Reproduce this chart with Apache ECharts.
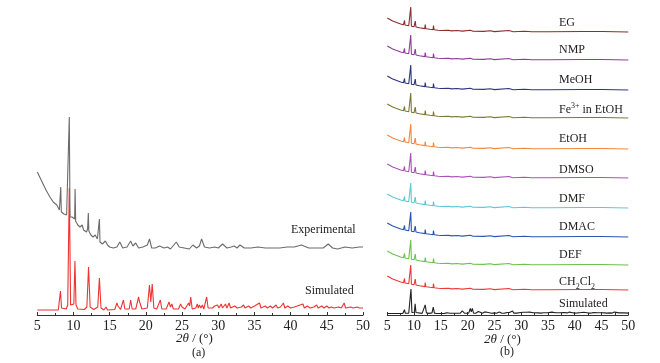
<!DOCTYPE html>
<html>
<head>
<meta charset="utf-8">
<script src="https://cdn.jsdelivr.net/npm/echarts@6/dist/echarts.min.js"></script>
<style>
  html, body { margin: 0; padding: 0; background: #fff; }
  #main { width: 660px; height: 363px; }
</style>
</head>
<body>
<div id="main"></div>
<script>
// x range / ticks (2θ, degrees)
var xMin = 5, xMax = 50, xStep = 5;

// (a) experimental pattern, intensity in plot units above axis
var expA = [
  [5,143],[5.4,137],[5.8,131],[6.2,125],[6.75,118],[7.2,113],[7.7,110],[8.05,105],[8.18,103],[8.24,128],[8.32,103],
  [8.7,101],[9.05,100],[9.3,99],[9.42,198],[9.52,98],[9.8,98],[10.05,96],[10.16,96],[10.22,126],[10.3,94],[10.6,90],
  [10.9,88],[11.2,90],[11.4,85],[11.8,83],[11.95,86],[12.05,102],[12.12,84],[12.4,80],[12.7,78],[13.0,80],[13.3,76],
  [13.5,75],[13.58,96],[13.66,73],[14.0,71],[14.4,74],[14.7,70],[15.0,68],[15.5,67],[16.0,68],[16.4,73],[16.8,67],
  [17.4,68],[17.9,74],[18.2,69],[18.6,72],[19.0,67],[19.6,68],[20.2,70],[20.5,76],[20.8,67],[21.3,67],[21.9,69],
  [22.5,67],[23.0,68],[23.4,66],[24.2,73],[24.6,68],[25.3,67],[26.0,66],[26.5,70],[27.0,67],[27.4,69],[27.7,76],
  [28.1,68],[28.8,67],[29.5,68],[30.0,67],[30.6,71],[31.2,67],[31.8,68],[32.2,69],[32.6,67],[33.0,70],[33.6,67],
  [34.5,67],[35.5,68],[36.5,67],[37.5,67],[38.5,67],[39.5,68],[40.5,68],[41.5,70],[42.5,67],[43.5,67],[44.5,67],
  [45.2,71],[45.8,67],[46.5,66],[47.5,68],[48.5,67],[49.5,68],[50,68]
];

// simulated pattern, height above its own baseline
var simPattern = [
  [5,0],[7.9,0],[8.05,2],[8.2,19],[8.35,2],[8.6,0.5],[9.0,1],[9.2,5],[9.42,122],[9.6,5],[9.85,3],[10.05,6],[10.2,49],
  [10.35,5],[10.6,1],[11.5,0.5],[11.85,3],[12.08,43],[12.3,3],[12.8,0.5],[13.35,3],[13.58,32],[13.8,2],[14.2,0],
  [14.5,3],[14.7,0],[15.7,0.5],[16.0,7],[16.15,4],[16.3,6],[16.5,0.5],[16.7,1],[16.9,10],[17.1,1],[17.7,1],[17.9,10],
  [18.1,1],[18.6,1],[19.0,13],[19.1,9],[19.25,11],[19.45,1],[20.2,2],[20.5,25],[20.68,8],[20.88,26],[21.1,2],[21.5,1],
  [22.0,10],[22.2,1],[22.8,1],[23.2,8],[23.4,3],[23.6,6],[23.8,1],[24.5,1],[24.8,6],[25.0,3],[25.15,5],[25.4,1],
  [25.9,7],[26.05,4],[26.2,13],[26.4,1],[26.9,2],[27.1,6],[27.25,2],[27.4,5],[27.6,2],[27.8,5],[28.0,1],[28.4,13],
  [28.6,2],[29.2,2],[29.5,4],[29.9,5],[30.1,2],[30.4,6],[30.6,2],[31.0,6],[31.2,2],[31.5,7],[31.7,2],[32.3,4],
  [32.6,2],[33.2,3],[33.5,5],[33.7,2],[34.2,4],[34.5,2],[35.0,4],[35.2,2],[35.7,7],[35.9,2],[36.5,4],[36.8,2],
  [37.2,4],[37.5,2],[38.0,5],[38.2,2],[38.6,3],[39.0,7],[39.2,2],[39.6,4],[40.0,2],[40.5,3],[40.9,4],[41.1,2],
  [41.7,6],[41.9,2],[42.3,4],[42.7,2],[43.2,3],[43.6,5],[43.8,2],[44.3,4],[44.6,2],[45.0,4],[45.3,2],[45.6,3],
  [46.0,2],[46.6,3],[47.0,2],[47.4,7],[47.6,2],[48.3,3],[48.6,2],[49.2,3],[49.5,2],[50,2]
];

// (b) experimental pattern shape, height above the trace's baseline
var expB = [
  [5,14],[5.5,12.5],[6,11],[6.5,10],[7,9],[7.5,8],[8.0,7.2],[8.15,7],[8.22,11.5],[8.3,7],[9.0,6.2],[9.3,6],[9.38,25],
  [9.5,5.8],[10.0,5.3],[10.15,5.2],[10.22,11],[10.35,5],[11,4.2],[12.0,3.4],[12.08,7.5],[12.2,3.3],[13.0,2.7],
  [13.55,2.4],[13.62,6.5],[13.75,2.3],[14.5,1.8],[15,1.5],[16.4,1.8],[17,1.1],[18,1.5],[19,0.9],[20.5,1.8],[21,0.8],
  [23,0.6],[24.2,1.2],[25,0.4],[27.7,1.5],[28.5,0.3],[30.6,0.8],[32,0.2],[35,0.2],[41.5,0.5],[45.2,0.5],[50,0]
];

// (b) samples, top to bottom
var samples = ["EG", "NMP", "MeOH", "Fe3+ in EtOH", "EtOH", "DMSO", "DMF", "DMAC", "DEF", "CH2Cl2"];
var sampleOffsets = [283, 255, 225, 197, 166, 137, 107, 78, 50, 25];
var sampleColors = ["#8b2e2e", "#8e3d9b", "#2f3680", "#7a7a36", "#f5883a", "#aa52b9", "#5ec8d4", "#2a55b0", "#6cc24a", "#ec3a3a"];
var sampleLabelY = [25, 52, 82, 110, 141, 172, 201, 229, 257, 284];

var serif = '"Liberation Serif", "Times New Roman", serif';

var myChart = echarts.init(document.getElementById("main"));

function xAxisOf(gi) {
  return {
    gridIndex: gi,
    type: "value",
    min: xMin,
    max: xMax,
    interval: xStep,
    axisLine: { lineStyle: { color: "#333", width: 1 } },
    axisTick: { inside: true, length: 3, lineStyle: { color: "#333" } },
    minorTick: { show: true, splitNumber: 2, length: 2, lineStyle: { color: "#333" } },
    splitLine: { show: false },
    axisLabel: { color: "#222", fontSize: 14, fontFamily: serif, margin: 4 }
  };
}

var series = [
  {
    type: "line", xAxisIndex: 0, yAxisIndex: 0, name: "Experimental",
    data: expA, showSymbol: false, silent: true,
    lineStyle: { color: "#6b6b6b", width: 1.1 }
  },
  {
    type: "line", xAxisIndex: 0, yAxisIndex: 0, name: "Simulated",
    data: simPattern.map(function (p) { return [p[0], p[1] + 5]; }),
    showSymbol: false, silent: true,
    lineStyle: { color: "#ee3333", width: 1.1 }
  }
];

samples.forEach(function (name, i) {
  series.push({
    type: "line", xAxisIndex: 1, yAxisIndex: 1, name: name,
    data: expB.map(function (p) { return [p[0], p[1] + sampleOffsets[i]]; }),
    showSymbol: false, silent: true,
    lineStyle: { color: sampleColors[i], width: 1.1 }
  });
});
series.push({
  type: "line", xAxisIndex: 1, yAxisIndex: 1, name: "Simulated b",
  data: simPattern.map(function (p) { return [p[0], p[1] * 0.2 + 1.5]; }),
  showSymbol: false, silent: true,
  lineStyle: { color: "#222", width: 1.1 }
});

function label(text, left, cy, rich) {
  return {
    type: "text", left: left, top: cy - 8,
    style: { text: text, fill: "#222", font: "12px " + serif, rich: rich }
  };
}
var supSub = {
  sup: { fontSize: 8, fontFamily: serif, verticalAlign: "top", lineHeight: 14, fill: "#222" },
  sub: { fontSize: 8, fontFamily: serif, verticalAlign: "bottom", lineHeight: 18, padding: [6, 0, 0, 0], fill: "#222" },
  n: { fontSize: 12, fontFamily: serif, lineHeight: 16, fill: "#222" }
};

var graphics = [
  label("Experimental", 291, 232),
  label("Simulated", 305, 293),
  {
    type: "text", left: 176, top: 332,
    style: { text: "{i|2θ} / (°)", font: "13px " + serif, fill: "#222",
      rich: { i: { fontStyle: "italic", fontSize: 13, fontFamily: serif, fill: "#222" } } }
  },
  { type: "text", left: 192, top: 347, style: { text: "(a)", font: "12px " + serif, fill: "#222" } },
  {
    type: "text", left: 484, top: 333,
    style: { text: "{i|2θ} / (°)", font: "13px " + serif, fill: "#222",
      rich: { i: { fontStyle: "italic", fontSize: 13, fontFamily: serif, fill: "#222" } } }
  },
  { type: "text", left: 500, top: 346, style: { text: "(b)", font: "12px " + serif, fill: "#222" } },
  label("Simulated", 559, 306)
];
samples.forEach(function (name, i) {
  var t = name;
  if (name === "Fe3+ in EtOH") t = "{n|Fe}{sup|3+}{n| in EtOH}";
  if (name === "CH2Cl2") t = "{n|CH}{sub|2}{n|Cl}{sub|2}";
  graphics.push(label(t, 559, sampleLabelY[i], supSub));
});

var option = {
  animation: false,
  backgroundColor: "#fff",
  grid: [
    { left: 37.3, width: 325.7, top: 115, height: 200 },
    { left: 387.3, width: 241, top: 0, height: 315 }
  ],
  xAxis: [xAxisOf(0), xAxisOf(1)],
  yAxis: [
    { gridIndex: 0, type: "value", min: 0, max: 200, show: false },
    { gridIndex: 1, type: "value", min: 0, max: 315, show: false }
  ],
  series: series,
  graphic: graphics
};
myChart.setOption(option);
</script>
</body>
</html>
